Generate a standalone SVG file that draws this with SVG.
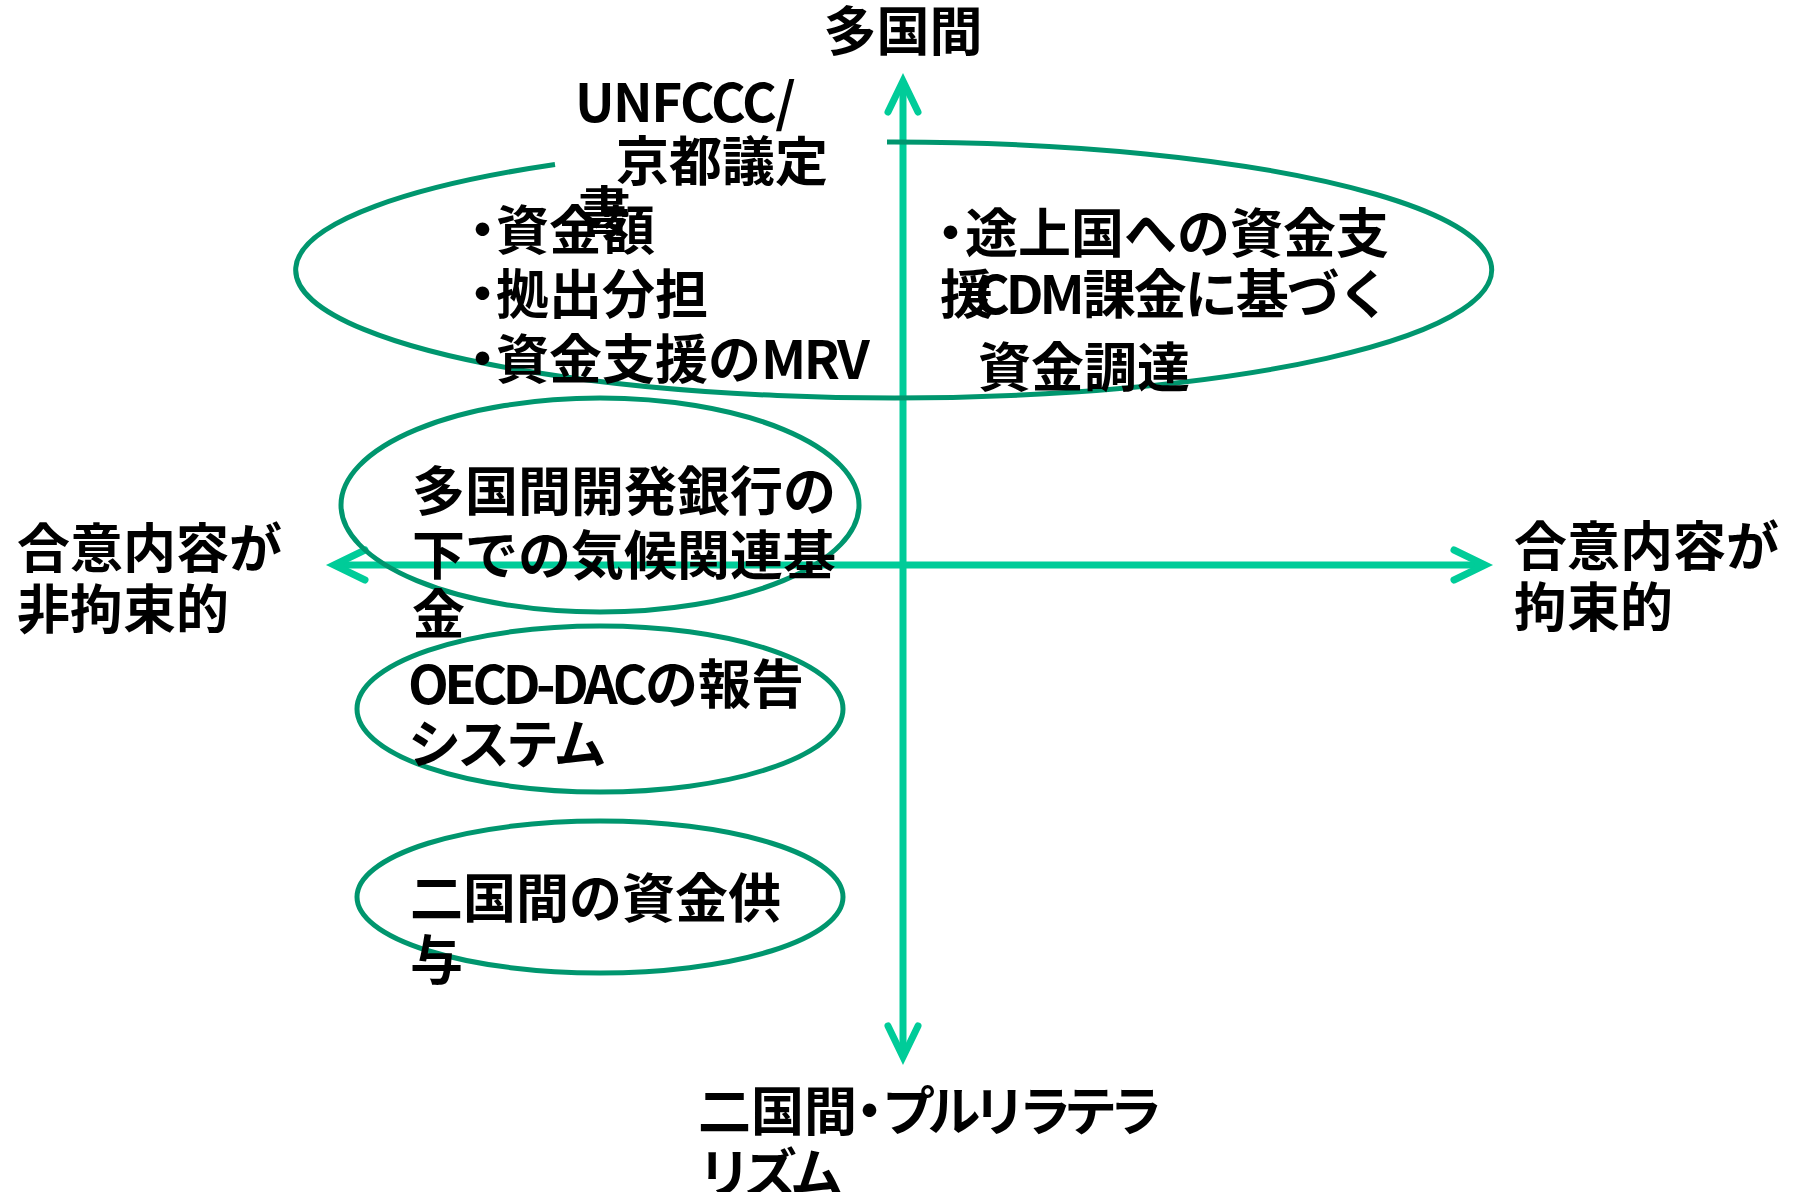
<svg xmlns="http://www.w3.org/2000/svg" width="1794" height="1192" viewBox="0 0 1794 1192">
<defs>
<style>
.t{font-family:'Noto Sans CJK JP','Noto Sans',sans-serif;font-weight:bold;font-size:53px;fill:#000}
.ell{fill:none;stroke:#00966E;stroke-width:5}
.axis{fill:none;stroke:#00CC99;stroke-width:7;marker-end:url(#chev)}
</style>
<marker id="chev" markerUnits="userSpaceOnUse" viewBox="-40 -20 50 40" markerWidth="50" markerHeight="40" refX="0" refY="0" orient="auto-start-reverse" overflow="visible">
<path d="M-31,-15 L0,0 L-31,15" fill="none" stroke="#00CC99" stroke-width="7" stroke-linecap="round" stroke-linejoin="miter"/>
</marker>
</defs>
<rect width="1794" height="1192" fill="#fff"/>
<g id="connectors">
<line class="axis" x1="334" y1="565" x2="1485" y2="565" style="marker-start:url(#chev)"/>
<line class="axis" x1="903" y1="81" x2="903" y2="1057" style="marker-start:url(#chev)"/>
</g>
<g id="node-unfccc">
<path class="ell" d="M555,164.5 A598,128 0 1 0 887,142"/>
<text class="t" x="575" y="122" letter-spacing="-1.6">UNFCCC/</text>
<text class="t" x="616" y="181">京都議定</text>
<text class="t" x="578" y="231">書</text>
<text class="t" x="456" y="250">・<tspan dx="-13">資金額</tspan></text>
<text class="t" x="456" y="314">・<tspan dx="-13">拠出分担</tspan></text>
<text class="t" x="456" y="379">・<tspan dx="-13">資金支援の</tspan><tspan letter-spacing="-2.5">MRV</tspan></text>
</g>
<g id="node-right">
<text class="t" x="924" y="253">・<tspan dx="-12">途上国への資金支</tspan></text>
<text class="t" x="940" y="314">援</text>
<text class="t" x="975" y="314"><tspan letter-spacing="-4">CDM</tspan><tspan dx="2" letter-spacing="-2">課金に基づく</tspan></text>
<text class="t" x="978" y="387">資金調達</text>
</g>
<g id="node-mdb">
<ellipse class="ell" cx="600" cy="505" rx="259" ry="107"/>
<text class="t" x="412" y="511">多国間開発銀行の</text>
<text class="t" x="412" y="575">下での気候関連基</text>
<text class="t" x="412" y="634">金</text>
</g>
<g id="node-oecd">
<ellipse class="ell" cx="600" cy="709" rx="243" ry="83"/>
<text class="t" x="408" y="704"><tspan letter-spacing="-4.5">OECD-DAC</tspan><tspan dx="2">の報告</tspan></text>
<text class="t" x="408" y="764" letter-spacing="-4">システム</text>
</g>
<g id="node-bilateral">
<ellipse class="ell" cx="600" cy="897" rx="243" ry="76"/>
<text class="t" x="410" y="918">二国間の資金供</text>
<text class="t" x="410" y="980">与</text>
</g>
<g id="label-top">
<text class="t" x="903" y="51" text-anchor="middle">多国間</text>
</g>
<g id="label-left">
<text class="t" x="17" y="568">合意内容が</text>
<text class="t" x="17" y="629">非拘束的</text>
</g>
<g id="label-right">
<text class="t" x="1514" y="566">合意内容が</text>
<text class="t" x="1514" y="627">拘束的</text>
</g>
<g id="label-bottom">
<text class="t" x="698" y="1131">二国間<tspan dx="-14">・</tspan><tspan dx="-14" letter-spacing="-7.5">プルリラテラ</tspan></text>
<text class="t" x="698" y="1193" letter-spacing="-7">リズム</text>
</g>
</svg>
